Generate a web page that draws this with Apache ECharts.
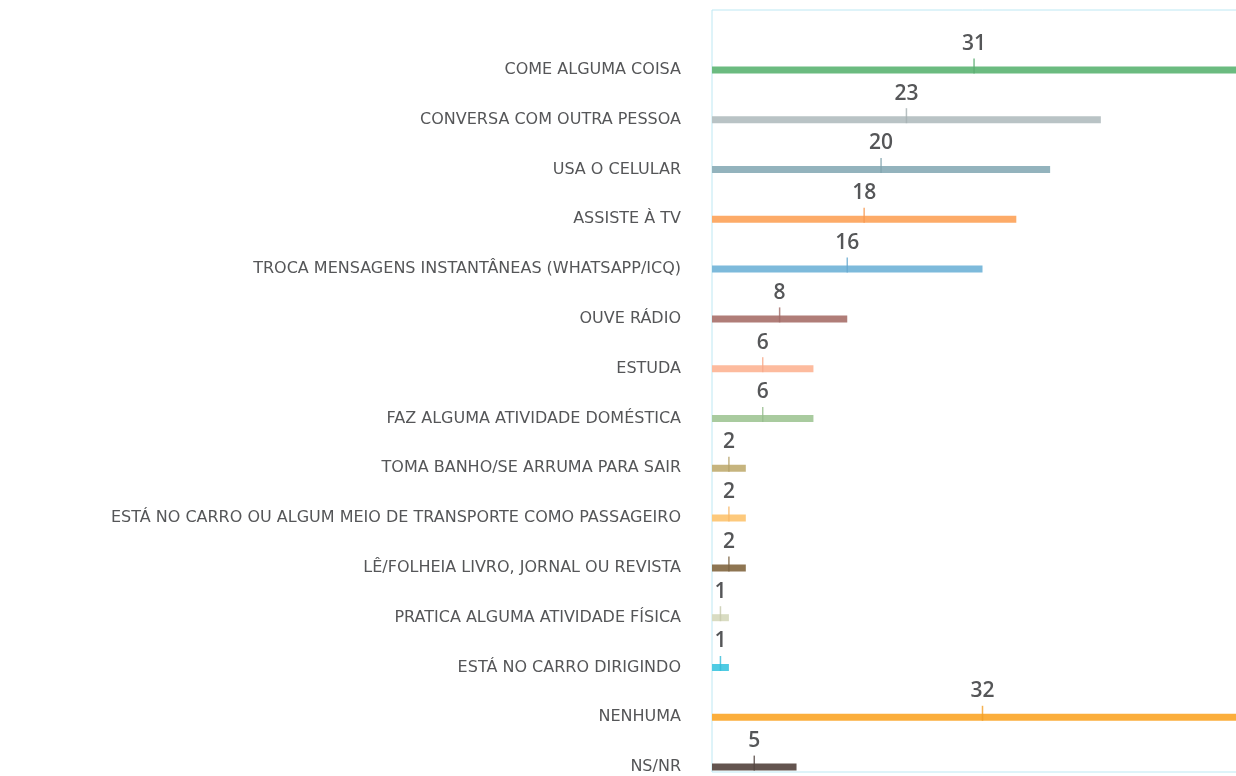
<!DOCTYPE html>
<html>
<head>
<meta charset="utf-8">
<script src="https://cdn.jsdelivr.net/npm/echarts@6/dist/echarts.min.js"></script>
<style>
  html, body { margin: 0; padding: 0; background: #fff; overflow: hidden; }
  /* the plot runs a bit past the right/bottom edge, like the original cut */
  #chart { width: 1253px; height: 792px; }
</style>
</head>
<body>
<div id="chart"></div>
<script>
var categories = [
  'COME ALGUMA COISA',
  'CONVERSA COM OUTRA PESSOA',
  'USA O CELULAR',
  'ASSISTE À TV',
  'TROCA MENSAGENS INSTANTÂNEAS (WHATSAPP/ICQ)',
  'OUVE RÁDIO',
  'ESTUDA',
  'FAZ ALGUMA ATIVIDADE DOMÉSTICA',
  'TOMA BANHO/SE ARRUMA PARA SAIR',
  'ESTÁ NO CARRO OU ALGUM MEIO DE TRANSPORTE COMO PASSAGEIRO',
  'LÊ/FOLHEIA LIVRO, JORNAL OU REVISTA',
  'PRATICA ALGUMA ATIVIDADE FÍSICA',
  'ESTÁ NO CARRO DIRIGINDO',
  'NENHUMA',
  'NS/NR'
];
var values = [31, 23, 20, 18, 16, 8, 6, 6, 2, 2, 2, 1, 1, 32, 5];
var barColors = [
  '#6bbb80', '#b9c3c5', '#93b3bd', '#fdab68', '#7dbadb',
  '#b07d78', '#fdbb9e', '#a9cb9f', '#c6b47e', '#fdc97c',
  '#8e7552', '#d9dcc2', '#4fcbe3', '#fbae3c', '#63544f'
];
var tickColors = [
  '#5aad70', '#a5b0b2', '#80a2ad', '#f7994f', '#66a9cf',
  '#a06b66', '#f7a988', '#95bb8b', '#b4a168', '#f6b766',
  '#7b6342', '#c5c9ab', '#33bcd8', '#f29f25', '#524541'
];

var chart = echarts.init(document.getElementById('chart'));

var barData = values.map(function (v, i) {
  return { value: v, itemStyle: { color: barColors[i] } };
});
// small vertical tick in the middle of each bar
var tickData = values.map(function (v, i) {
  return { value: [v / 2, categories[i]], itemStyle: { color: tickColors[i] } };
});

var option = {
  animation: false,
  grid: [
    // bars
    { left: 712, right: 0, top: 45, bottom: 0 },
    // frame
    { left: 712, right: 0, top: 10, bottom: 20, show: true,
      borderColor: '#bde8f3', borderWidth: 1, backgroundColor: 'transparent' }
  ],
  xAxis: [
    { type: 'value', gridIndex: 0, min: 0, max: 32, show: false },
    { type: 'value', gridIndex: 1, show: false }
  ],
  yAxis: [
    {
      type: 'category', gridIndex: 0, data: categories, inverse: true,
      axisLine: { show: false }, axisTick: { show: false },
      axisLabel: {
        margin: 31, color: '#555658', fontSize: 16,
        fontFamily: 'DejaVu Sans'
      }
    },
    { type: 'value', gridIndex: 1, show: false }
  ],
  series: [
    {
      type: 'bar', xAxisIndex: 0, yAxisIndex: 0,
      data: barData, barWidth: 7,
      label: {
        show: true, position: 'top', distance: 12,
        color: '#555658', fontSize: 21, fontWeight: 600,
        fontFamily: 'Open Sans'
      }
    },
    {
      type: 'scatter', xAxisIndex: 0, yAxisIndex: 0,
      data: tickData, symbol: 'rect', symbolSize: [1.5, 15],
      symbolOffset: [0, -4], silent: true, z: 3
    }
  ]
};

chart.setOption(option);
</script>
</body>
</html>
